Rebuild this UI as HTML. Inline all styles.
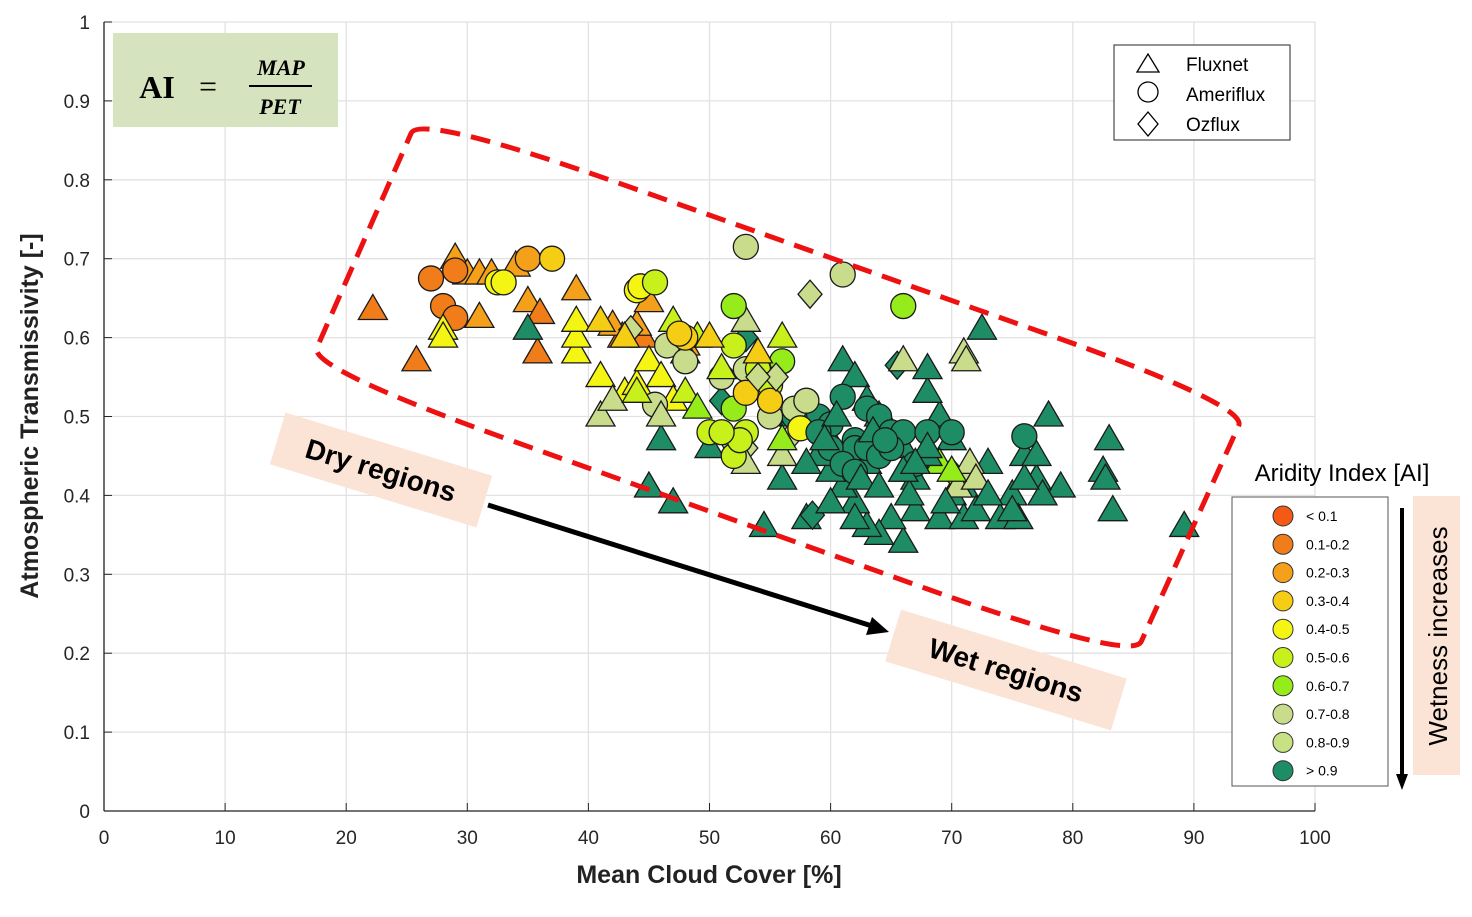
<!DOCTYPE html>
<html><head><meta charset="utf-8"><style>
body{margin:0;background:#fff;width:1472px;height:917px;overflow:hidden;font-family:"Liberation Sans",Arial,sans-serif}
svg{display:block}
</style></head><body>
<svg id="chart" width="1472" height="917" xmlns="http://www.w3.org/2000/svg">
<g id="grid"></g>
<g id="axes"></g>
<g id="marks"></g>
<g id="annot"></g>
</svg>
<script>
const xTicks=[0,10,20,30,40,50,60,70,80,90,100];
const yTicks=[0,0.1,0.2,0.3,0.4,0.5,0.6,0.7,0.8,0.9,1];
const yTickLabels=["0","0.1","0.2","0.3","0.4","0.5","0.6","0.7","0.8","0.9","1"];
const classColors=["#f55a14","#f07d1a","#f5a01a","#f5cd14","#f5f514","#c8f01a","#96eb1a","#c8dc8c","#c8e182","#1e8c64"];
const classLabels=["< 0.1","0.1-0.2","0.2-0.3","0.3-0.4","0.4-0.5","0.5-0.6","0.6-0.7","0.7-0.8","0.8-0.9","> 0.9"];
// cloud cover [%]
const ptX=[22.2,25.8,35.8,42.8,44.5,29,30,31,32,34,35,31,39,42,44,48,45,36,27,29,28,29,35,37,32.5,33,28,28,39,39,39,41,43,44,45,46,47,48,44,44.3,45.5,
35,45,46,47,50,54.5,56,58,72.5,78,83,83.3,82.5,82.7,89.2,79,77,76,75,74,73,72,71,70,69,68,68,67,66,65,64,63,62,61,60,59,61,62,63,64,65,66,67,69,70,71,72,75.5,77.5,76,57,60,63,66,
58,59,61,62,63,64,65,66,68,70,76,61.5,62,63,60,57,
58.5,65.5,53,51,
53,61,46.5,48,53,51,55,57,58,45.5,52,
58.3,43.5,55,53,57,70,71,
53,66,71,71.2,41,42,46,53,56,70.5,71.5,72,
66,52,52,56,54,52,53,52,52.5,55,50,51,57.5,
44,47,49,51,56,48,49,69,70,56,
48,47.5,53,55,43,41,50,54,
59,60,61,62,64,65,67,68,60.5,63.5,59.5,62.5,66.5,69.5,58,60,62,64,66,68,55.5,54,73,75,77,67,64.5];
// transmissivity [-]
const ptY=[0.635,0.57,0.58,0.6,0.6,0.7,0.68,0.68,0.68,0.69,0.645,0.625,0.66,0.615,0.615,0.59,0.645,0.63,0.675,0.685,0.64,0.625,0.7,0.7,0.67,0.67,0.61,0.6,0.58,0.6,0.62,0.55,0.53,0.54,0.57,0.55,0.52,0.58,0.66,0.665,0.67,
0.61,0.41,0.47,0.39,0.46,0.36,0.42,0.37,0.61,0.5,0.47,0.38,0.43,0.42,0.36,0.41,0.42,0.45,0.4,0.37,0.44,0.42,0.41,0.47,0.5,0.53,0.56,0.38,0.34,0.37,0.35,0.36,0.39,0.41,0.43,0.45,0.57,0.55,0.52,0.5,0.48,0.46,0.42,0.37,0.4,0.37,0.38,0.37,0.4,0.42,0.5,0.47,0.44,0.43,
0.52,0.5,0.525,0.47,0.51,0.5,0.48,0.48,0.48,0.48,0.475,0.45,0.46,0.46,0.49,0.5,
0.375,0.565,0.6,0.52,
0.715,0.68,0.59,0.57,0.56,0.55,0.5,0.51,0.52,0.515,0.47,
0.655,0.61,0.54,0.46,0.48,0.43,0.42,
0.62,0.57,0.58,0.57,0.5,0.52,0.5,0.44,0.45,0.41,0.44,0.42,
0.64,0.64,0.59,0.57,0.56,0.51,0.48,0.45,0.47,0.54,0.48,0.48,0.485,
0.53,0.62,0.6,0.56,0.6,0.53,0.51,0.44,0.43,0.47,
0.6,0.605,0.53,0.52,0.6,0.62,0.6,0.58,
0.48,0.46,0.44,0.43,0.45,0.46,0.44,0.45,0.5,0.48,0.47,0.42,0.4,0.39,0.44,0.39,0.37,0.41,0.43,0.46,0.55,0.55,0.4,0.38,0.45,0.44,0.47];
// network: 0 Fluxnet triangle, 1 Ameriflux circle, 2 Ozflux diamond
const ptNet=[0,0,0,0,0,0,0,0,0,0,0,0,0,0,0,0,0,0,1,1,1,1,1,1,1,1,0,0,0,0,0,0,0,0,0,0,0,0,1,1,1,
0,0,0,0,0,0,0,0,0,0,0,0,0,0,0,0,0,0,0,0,0,0,0,0,0,0,0,0,0,0,0,0,0,0,0,0,0,0,0,0,0,0,0,0,0,0,0,0,0,0,0,0,0,0,
1,1,1,1,1,1,1,1,1,1,1,1,1,1,1,1,
2,2,2,2,
1,1,1,1,1,1,1,1,1,1,1,
2,2,2,2,2,2,2,
0,0,0,0,0,0,0,0,0,0,0,0,
1,1,1,1,1,1,1,1,1,1,1,1,1,
0,0,0,0,0,0,0,0,0,0,
1,1,1,1,0,0,0,0,
1,1,1,1,1,1,1,0,0,0,0,0,0,0,0,0,0,0,0,0,2,2,0,0,0,0,1];
// aridity class index
const ptCls=[1,1,1,1,1,2,2,2,2,2,2,2,2,2,2,2,2,1,1,1,1,1,2,3,4,4,4,4,4,4,4,4,4,4,4,4,4,4,4,4,5,
9,9,9,9,9,9,9,9,9,9,9,9,9,9,9,9,9,9,9,9,9,9,9,9,9,9,9,9,9,9,9,9,9,9,9,9,9,9,9,9,9,9,9,9,9,9,9,9,9,9,9,9,9,9,
9,9,9,9,9,9,9,9,9,9,9,9,9,9,9,9,
9,9,9,9,
7,7,7,7,7,7,7,7,7,7,7,
7,7,7,7,7,7,7,
7,7,7,7,7,7,7,7,7,7,7,7,
6,6,5,6,5,6,5,5,5,5,5,5,4,
5,5,5,5,5,5,6,6,6,6,
3,3,3,3,3,3,3,3,
9,9,9,9,9,9,9,9,9,9,9,9,9,9,9,9,9,9,9,9,7,7,9,9,9,9,9];

const NS="http://www.w3.org/2000/svg";
const X0=104,X1=1315,Y0=811,Y1=22;
const sx=v=>X0+(v-0)/(100-0)*(X1-X0);
const sy=v=>Y0-(v-0)/(1-0)*(Y0-Y1);
function mk(tag,attrs,parent){const e=document.createElementNS(NS,tag);for(const k in attrs)e.setAttribute(k,attrs[k]);parent.appendChild(e);return e;}
const grid=document.getElementById('grid'),axes=document.getElementById('axes'),marks=document.getElementById('marks'),annot=document.getElementById('annot');

xTicks.forEach((t,i)=>{
  const l=mk('line',{x1:sx(t),x2:sx(t),y1:Y1,y2:Y0,stroke:'#e2e2e2','stroke-width':1.3},grid);
  
  
  const tx=mk('text',{x:sx(t),y:Y0+33,'text-anchor':'middle','font-size':19,fill:'#262626'},axes);
  tx.textContent=String(t);
  
  
  mk('line',{x1:sx(t),x2:sx(t),y1:Y0,y2:Y0-8,stroke:'#262626'},axes);
});
yTicks.forEach((t,i)=>{
  const l=mk('line',{x1:X0,x2:X1,y1:sy(t),y2:sy(t),stroke:'#e2e2e2','stroke-width':1.3},grid);
  
  
  const tx=mk('text',{x:X0-14,y:sy(t)+7,'text-anchor':'end','font-size':19,fill:'#262626'},axes);
  tx.textContent=yTickLabels[i];
  
  
  mk('line',{x1:X0,x2:X0+8,y1:sy(t),y2:sy(t),stroke:'#262626'},axes);
});
mk('line',{x1:X0,x2:X0,y1:Y1,y2:Y0,stroke:'#262626','stroke-width':1.3},axes);
mk('line',{x1:X0,x2:X1,y1:Y0,y2:Y0,stroke:'#262626','stroke-width':1.3},axes);
let xt=mk('text',{x:709,y:883,'text-anchor':'middle','font-size':25,'font-weight':'bold',fill:'#222'},axes);
xt.textContent='Mean Cloud Cover [%]';


let yt=mk('text',{x:0,y:0,'text-anchor':'middle','font-size':25,'font-weight':'bold',fill:'#222',transform:'translate(38,416) rotate(-90)'},axes);
yt.textContent='Atmospheric Transmissivity [-]';



function shape(net,cx,cy,fill,parent){
  if(net===0){const h=25,w=29;return mk('polygon',{points:`${cx},${cy-h*0.62} ${cx-w/2},${cy+h*0.38} ${cx+w/2},${cy+h*0.38}`,fill:fill,stroke:'#1a1a1a','stroke-width':1.3},parent);}
  if(net===1)return mk('circle',{cx:cx,cy:cy,r:12.5,fill:fill,stroke:'#1a1a1a','stroke-width':1.3},parent);
  return mk('polygon',{points:`${cx},${cy-14} ${cx+12},${cy} ${cx},${cy+14} ${cx-12},${cy}`,fill:fill,stroke:'#1a1a1a','stroke-width':1.3},parent);
}
for(let i=0;i<ptX.length;i++){
  const m=shape(ptNet[i],sx(ptX[i]),sy(ptY[i]),classColors[ptCls[i]],marks);
  
  
}

// dashed rounded region
(function(){
  const P=[[420,113],[1248,405],[1132,662],[308,368]];let d='';
  for(let i=0;i<4;i++){const a=P[(i+3)%4],b=P[i],c=P[(i+1)%4];
    const fa=(i%2?0.25:0.08), fc=(i%2?0.08:0.25);
    const p1=[b[0]+(a[0]-b[0])*fa,b[1]+(a[1]-b[1])*fa];
    const p2=[b[0]+(c[0]-b[0])*fc,b[1]+(c[1]-b[1])*fc];
    d+=(i===0?'M':'L')+p1[0]+','+p1[1]+' Q'+b[0]+','+b[1]+' '+p2[0]+','+p2[1]+' ';}
  d+='Z';
  const p=mk('path',{d:d,fill:'none',stroke:'#ee1111','stroke-width':5,'stroke-dasharray':'20,11'},annot);
  
  
})();
</script>
<svg width="1472" height="917" style="position:absolute;left:0;top:0">
<g><line x1="488" y1="505" x2="872" y2="626" stroke="#000" stroke-width="5"/>
<polygon points="889,632 866,635 872,617" fill="#000"/></g>
<g transform="translate(381,470) rotate(17)">
<rect x="-108" y="-27" width="216" height="54" fill="#fbe3d5"/>
<text x="0" y="10" text-anchor="middle" font-size="28" font-weight="bold">Dry regions</text></g>
<g transform="translate(1006,670) rotate(17)">
<rect x="-118" y="-27" width="236" height="54" fill="#fbe3d5"/>
<text x="0" y="10" text-anchor="middle" font-size="28" font-weight="bold">Wet regions</text></g>
<g>
<rect x="113" y="33" width="225" height="94" fill="#d6e3bf"/>
<text x="157" y="98" text-anchor="middle" font-family="Liberation Serif,serif" font-weight="bold" font-size="32">AI</text>
<text x="208" y="97" text-anchor="middle" font-family="Liberation Serif,serif" font-size="32">=</text>
<text x="281" y="75" text-anchor="middle" font-family="Liberation Serif,serif" font-weight="bold" font-style="italic" font-size="22">MAP</text>
<line x1="249" y1="86" x2="312" y2="86" stroke="#000" stroke-width="2"/>
<text x="280" y="114" text-anchor="middle" font-family="Liberation Serif,serif" font-weight="bold" font-style="italic" font-size="22">PET</text></g>
<g>
<rect x="1114" y="45" width="176" height="95" fill="#fff" stroke="#262626"/>
<polygon points="1148,54 1137,72 1159,72" fill="none" stroke="#000" stroke-width="1.3"/>
<text x="1186" y="71" font-size="19">Fluxnet</text>
<circle cx="1148" cy="92" r="10" fill="none" stroke="#000" stroke-width="1.3"/>
<text x="1186" y="101" font-size="19">Ameriflux</text>
<polygon points="1148,112 1158,124 1148,136 1138,124" fill="none" stroke="#000" stroke-width="1.3"/>
<text x="1186" y="131" font-size="19">Ozflux</text></g>
<text x="1342" y="481" text-anchor="middle" font-size="24">Aridity Index [AI]</text>
<g id="arleg">
<rect x="1232" y="497" width="156" height="289" fill="#fff" stroke="#555"/></g>
<g>
<line x1="1402" y1="508" x2="1402" y2="776" stroke="#000" stroke-width="4"/>
<polygon points="1396,774 1408,774 1402,790" fill="#000"/>
<rect x="1413" y="496" width="47" height="279" fill="#fbe3d5"/>
<text transform="translate(1447,636) rotate(-90)" text-anchor="middle" font-size="26">Wetness increases</text></g>
</svg>
<script>
(function(){const g=document.getElementById('arleg');const NS="http://www.w3.org/2000/svg";
for(let i=0;i<classLabels.length;i++){const y=516+i*28.3;
 const c=document.createElementNS(NS,'circle');c.setAttribute('cx',1283);c.setAttribute('cy',y);c.setAttribute('r',10);c.setAttribute('fill',classColors[i]);c.setAttribute('stroke','#333');g.appendChild(c);
 
 
 const t=document.createElementNS(NS,'text');t.setAttribute('x',1306);t.setAttribute('y',y+5);t.setAttribute('font-size',14);t.textContent=classLabels[i];g.appendChild(t);
 
 }})();
</script>
</body></html>
